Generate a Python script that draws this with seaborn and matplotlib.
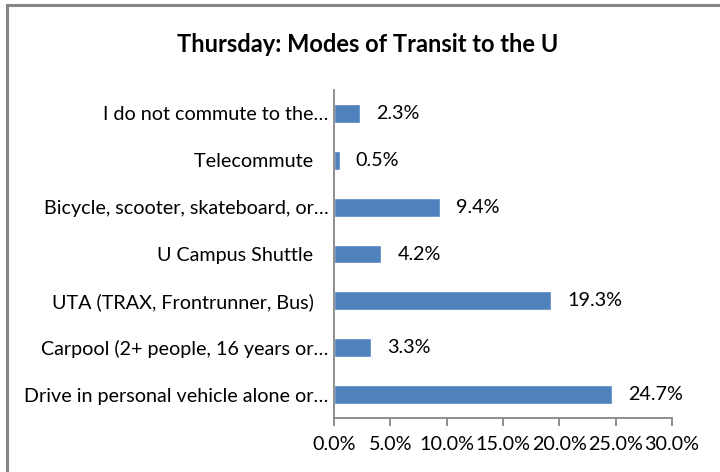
import pandas as pd
import matplotlib.pyplot as plt
import seaborn as sns
from matplotlib.patches import Rectangle
from matplotlib.ticker import FuncFormatter

# Dados
modos = ['I do not commute to the\u2026',
         'Telecommute\u2002\u00a0',
         'Bicycle, scooter, skateboard, or\u2026',
         'U Campus Shuttle\u2002\u00a0',
         'UTA (TRAX, Frontrunner, Bus)\u2002\u00a0',
         'Carpool (2+ people, 16 years or\u2026',
         'Drive in personal vehicle alone or\u2026']
percentuais = [2.3, 0.5, 9.4, 4.2, 19.3, 3.3, 24.7]
ticks_x = [0, 5, 10, 15, 20, 25, 30]

sns.set_style('white')
plt.rcParams['font.family'] = ['Lato', 'DejaVu Sans']
plt.rcParams['text.color'] = 'black'
plt.rcParams['xtick.color'] = 'black'
plt.rcParams['ytick.color'] = 'black'

df = pd.DataFrame({'modo': modos, 'pct': percentuais})

fig = plt.figure(figsize=(7.2, 4.72), dpi=100)
ax = fig.add_axes([0.4639, 0.1144, 0.4694, 0.6949])

sns.barplot(data=df, x='pct', y='modo', orient='h', color='#4F81BD',
            width=0.4, saturation=1, ax=ax)

cinza = '#868686'
ax.set_xlim(0, 30)
ax.set_ylim(len(modos) - 0.5, -0.5)
ax.set_xticks(ticks_x)
ax.xaxis.set_major_formatter(FuncFormatter(lambda v, p: f'{v:.1f}%'))
ax.set_xlabel('')
ax.set_ylabel('')
for lado in ['top', 'right']:
    ax.spines[lado].set_visible(False)
for lado in ['left', 'bottom']:
    ax.spines[lado].set_color(cinza)
    ax.spines[lado].set_linewidth(1.3)
ax.tick_params(axis='x', length=6, width=1.3, color=cinza, labelcolor='black',
               labelsize=14.2, pad=7, bottom=True, direction='out')
ax.tick_params(axis='y', length=0, labelsize=14.2, labelcolor='black', pad=4)

for i, v in enumerate(percentuais):
    ax.annotate(f'{v:.1f}%', (v, i), xytext=(16, 0), textcoords='offset pixels',
                va='center', ha='left', fontsize=14.2, color='black')

fig.text(0.511, 0.905, 'Thursday: Modes of Transit to the U', ha='center', va='center',
         fontsize=17, fontweight='bold', color='black')

# borda do grafico
fig.patches.append(Rectangle((7 / 720, -0.1), 1.1, 1 - 5 / 472 + 0.1, transform=fig.transFigure,
                             fill=False, edgecolor=cinza, linewidth=2.2))

fig.savefig('out.png', dpi=100)
